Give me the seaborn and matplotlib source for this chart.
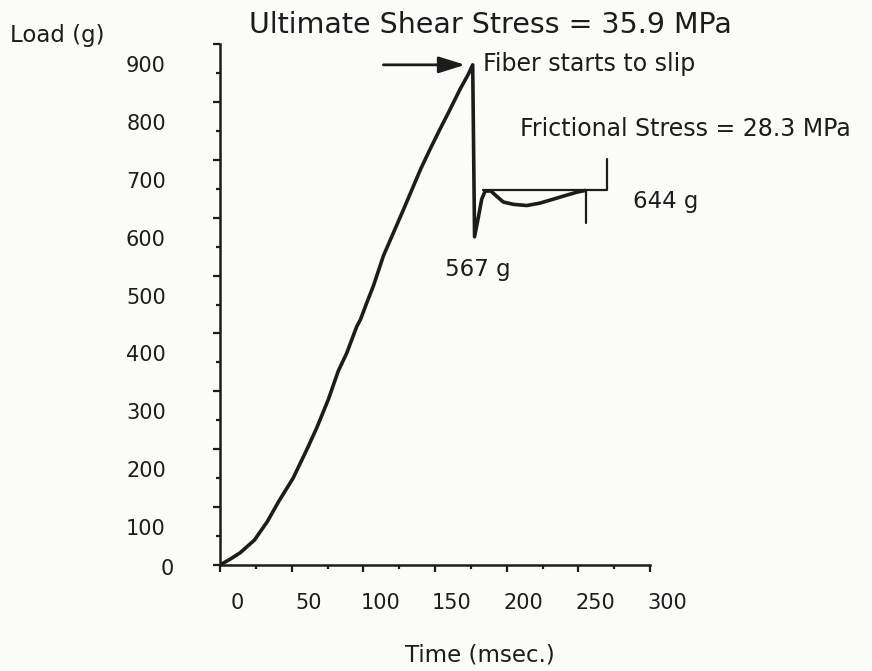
import matplotlib
matplotlib.use("Agg")
import matplotlib.pyplot as plt
import matplotlib.transforms as mtransforms
import numpy as np
import pandas as pd
import seaborn as sns

# ---- data ----
time_ms = [0, 7, 14, 24, 33, 41, 51, 60.5, 67.5, 75.6, 82.5, 88.4, 95.4, 98,
           102.4, 107, 114, 121, 128, 134, 140, 146.5, 153.5, 160.5, 167.5,
           173.3, 176.3, 177.6, 180.2, 182.6, 185, 189, 193, 197.7, 204.7,
           214, 223, 232.6, 242, 249, 254.7]
load_g = [0, 10, 21, 43, 75, 110, 150, 199, 237, 286, 335, 366, 412, 424,
          453, 482, 534, 574, 614, 649, 684, 718, 753, 787, 822,
          848, 864, 567, 600, 632, 646, 646, 637, 627, 623,
          621, 625, 632, 639, 644, 647]

x_ticks = [0, 50, 100, 150, 200, 250, 300]
x_minor = [25, 75, 125, 175, 225, 275]
y_ticks = [0, 100, 200, 300, 400, 500, 600, 700, 800, 900]
y_minor = [50, 150, 250, 350, 450, 550, 650, 750, 850]

# frictional plateau marker
fric_level = 648
fric_start, fric_end = 183.7, 270
fric_top = 701
fric_mark_t, fric_mark_low = 255.4, 591

title_text = "Ultimate Shear Stress = 35.9 MPa"
peak_label = "Fiber starts to slip"
fric_label = "Frictional Stress = 28.3 MPa"
max_label = "644 g"
min_label = "567 g"

df = pd.DataFrame({"Time (msec.)": time_ms, "Load (g)": load_g})

sns.set_theme(style="ticks")
plt.rcParams["font.family"] = ["DejaVu Sans"]
ink = "#1c1c1c"
bg = "#fbfbf9"

fig = plt.figure(figsize=(8.72, 6.71), dpi=100, facecolor=bg)
ax = fig.add_axes([220 / 872, 106 / 671, 430 / 872, 521 / 671])
ax.set_facecolor(bg)

sns.lineplot(data=df, x="Time (msec.)", y="Load (g)", ax=ax, sort=False,
             estimator=None, color=ink, lw=2.6)

# friction marker lines
ax.plot([fric_start, fric_end, fric_end], [fric_level, fric_level, fric_top],
        color=ink, lw=1.6)
ax.plot([fric_mark_t, fric_mark_t], [fric_level, fric_mark_low],
        color=ink, lw=1.6)

ax.set_xlim(0, 300)
ax.set_ylim(0, 900)
sns.despine(ax=ax)
for s in ("left", "bottom"):
    ax.spines[s].set_linewidth(1.8)
    ax.spines[s].set_color(ink)

ax.set_xticks(x_ticks)
ax.set_xticks(x_minor, minor=True)
ax.set_yticks(y_ticks)
ax.set_yticks(y_minor, minor=True)
ax.set_xticklabels([str(v) for v in x_ticks])
ax.set_yticklabels([str(v) for v in y_ticks])
ax.tick_params(axis="both", which="major", direction="out", length=5,
               width=1.6, color=ink, labelsize=15, labelcolor=ink)
ax.tick_params(axis="both", which="minor", direction="out", length=3,
               width=1.6, color=ink)
ax.tick_params(axis="x", which="major", pad=15)
ax.tick_params(axis="y", which="major", pad=34)

# the original's tick labels are offset from their ticks
xoff = mtransforms.ScaledTranslation(17 / 100, 0, fig.dpi_scale_trans)
for lab in ax.get_xticklabels():
    lab.set_transform(lab.get_transform() + xoff)
yoff = mtransforms.ScaledTranslation(0, -20 / 100, fig.dpi_scale_trans)
y0off = mtransforms.ScaledTranslation(8 / 100, -2 / 100, fig.dpi_scale_trans)
for lab, v in zip(ax.get_yticklabels(), y_ticks):
    lab.set_transform(lab.get_transform() + (y0off if v == 0 else yoff))

ax.set_xlabel("Time (msec.)", fontsize=16.5, color=ink)
ax.xaxis.set_label_coords(0.605, -0.173)
ax.xaxis.label.set_va("center")
ax.set_ylabel("Load (g)", fontsize=16.5, color=ink, rotation=0,
              ha="left", va="center")
ax.yaxis.set_label_coords(-0.488, 1.017)

ax.set_title(title_text, fontsize=20.5, color=ink, x=0.628, y=1.036,
             va="center", pad=0)

ax.annotate("", xy=(171, 864), xytext=(114, 864),
            arrowprops=dict(arrowstyle="-|>,head_length=1.6,head_width=0.5",
                            mutation_scale=10, lw=2, color=ink,
                            shrinkA=0, shrinkB=0))
ax.text(183.5, 865, peak_label, ha="left", va="center", fontsize=17, color=ink)
ax.text(209.4, 753, fric_label, ha="left", va="center", fontsize=17, color=ink)
ax.text(288, 628, max_label, ha="left", va="center", fontsize=16.5, color=ink)
ax.text(157, 510, min_label, ha="left", va="center", fontsize=16.5, color=ink)

fig.savefig("out.png", dpi=100, facecolor=bg)
